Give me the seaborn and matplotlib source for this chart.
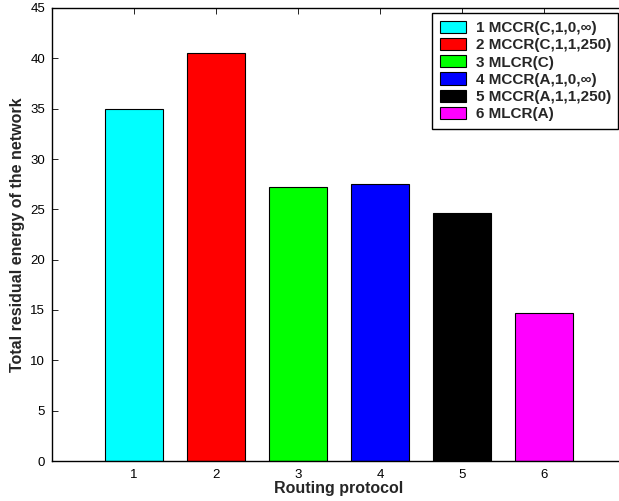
import numpy as np
import pandas as pd
import matplotlib
matplotlib.use('Agg')
import matplotlib.pyplot as plt
import seaborn as sns

sns.set_style('ticks')
plt.rcParams['font.family'] = ['Liberation Sans', 'DejaVu Sans']

# 数据
protocols = [1, 2, 3, 4, 5, 6]
energy = [35.0, 40.5, 27.2, 27.5, 24.6, 14.7]
names = ['1 MCCR(C,1,0,∞)', '2 MCCR(C,1,1,250)', '3 MLCR(C)',
         '4 MCCR(A,1,0,∞)', '5 MCCR(A,1,1,250)', '6 MLCR(A)']
colors = ['#00ffff', '#ff0000', '#00ff00', '#0000ff', '#000000', '#ff00ff']

df = pd.DataFrame({'protocol': protocols, 'energy': energy, 'name': names})

fig = plt.figure(figsize=(6.19, 5.01), dpi=100)
ax = fig.add_axes([52 / 619, 1 - 461 / 501, (626 - 52) / 619, (461 - 8) / 501])

sns.barplot(data=df, x='protocol', y='energy', hue='name', palette=colors,
            native_scale=True, dodge=False, width=0.7, saturation=1,
            edgecolor='black', linewidth=0.8, ax=ax)

ax.set_xlim(0, 7)
ax.set_ylim(0, 45)
ax.set_xticks(protocols)
ax.set_yticks(np.arange(0, 46, 5))
ax.tick_params(direction='in', top=True, right=True, length=4, width=0.6,
               labelsize=9.5, colors='black', pad=5)
ax.tick_params(axis='x', pad=6)
for s in ax.spines.values():
    s.set_visible(True)
    s.set_color('black')
    s.set_linewidth(1.0)

ax.set_xlabel('Routing protocol', fontsize=11.5, fontweight='bold', labelpad=0)
ax.set_ylabel('Total residual energy of the network', fontsize=11.5, fontweight='bold', labelpad=4)

handles, labels = ax.get_legend_handles_labels()
leg = ax.legend(handles, labels, loc='upper left',
                bbox_to_anchor=(432 / 619, 1 - 13 / 501), bbox_transform=fig.transFigure,
                prop={'weight': 'bold', 'size': 11, 'family': ['Liberation Sans', 'DejaVu Sans']},
                frameon=True, fancybox=False, framealpha=1, edgecolor='black',
                handlelength=1.75, handleheight=0.85, handletextpad=0.6,
                labelspacing=0.19, borderpad=0.5, borderaxespad=0)
leg.get_frame().set_linewidth(1.0)

fig.savefig('out.png', dpi=100)
